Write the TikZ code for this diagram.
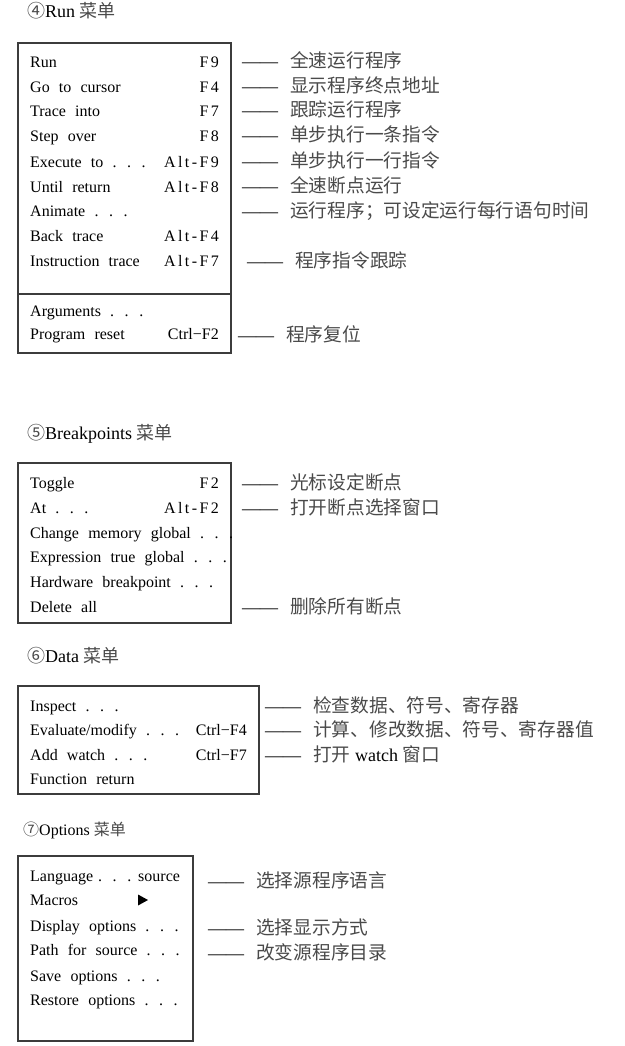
\documentclass[tikz,border=0pt]{standalone}
\usepackage{fontspec}
\setmainfont{Liberation Serif}
\newfontfamily\cjk{Noto Sans CJK SC}
\newfontfamily\menufont[WordSpace=2.3]{Liberation Serif}
\newfontfamily\keyfont[LetterSpace=15]{Liberation Serif}
\definecolor{zhgray}{HTML}{4A4A4A}
\definecolor{boxgray}{HTML}{3C3C3C}
\newcommand\zh[1]{{\cjk\color{zhgray}#1}}
\newcommand\zhb[1]{{\cjk\fontsize{18.7}{22}\selectfont\color{zhgray}#1}}
\newcommand\annot[1]{——\hspace{12pt}\zhb{#1}}
\tikzset{
  menuitem/.style={anchor=base west, inner sep=0pt, font=\menufont\fontsize{16}{19}\selectfont},
  keyitem/.style={anchor=base east, inner sep=0pt, font=\keyfont\fontsize{16}{19}\selectfont},
  ctrlkey/.style={anchor=base east, inner sep=0pt, font=\menufont\fontsize{16}{19}\selectfont},
  ann/.style={anchor=base west, inner sep=0pt, font=\fontsize{18}{22}\selectfont},
  titletext/.style={anchor=base west, inner sep=0pt, font=\fontsize{18}{22}\selectfont},
  smalltitle/.style={anchor=base west, inner sep=0pt, font=\fontsize{16}{20}\selectfont},
  menubox/.style={draw=boxgray, line width=1.2pt},
}
\begin{document}
\begin{tikzpicture}[x=1pt,y=-1pt]
\useasboundingbox[fill=white] (0,0) rectangle (624,1046);

% ---------- Run menu ----------
\node[titletext] (t4) at (27,18) {\zh{④}Run \zh{菜单}};
\draw[menubox] (18,43) rectangle (231,353);
\draw[draw=boxgray, line width=1.8pt] (18,294) -- (231,294);
\node[menuitem] (r1) at (30,68) {Run};
\node[menuitem] (r2) at (30,93) {Go to cursor};
\node[menuitem] (r3) at (30,117) {Trace into};
\node[menuitem] (r4) at (30,142) {Step over};
\node[menuitem] (r5) at (30,167) {Execute to . . .};
\node[menuitem] (r6) at (30,192) {Until return};
\node[menuitem] (r7) at (30,216) {Animate . . .};
\node[menuitem] (r8) at (30,241) {Back trace};
\node[menuitem] (r9) at (30,266) {Instruction trace};
\node[menuitem] (r10) at (30,316) {Arguments . . .};
\node[menuitem] (r11) at (30,339) {Program reset};
\node[keyitem] (k1) at (219,68) {F9};
\node[keyitem] (k2) at (219,93) {F4};
\node[keyitem] (k3) at (219,117) {F7};
\node[keyitem] (k4) at (219,142) {F8};
\node[keyitem] (k5) at (219,167) {Alt-F9};
\node[keyitem] (k6) at (219,192) {Alt-F8};
\node[keyitem] (k8) at (219,241) {Alt-F4};
\node[keyitem] (k9) at (219,266) {Alt-F7};
\node[ctrlkey] (k11) at (219,339) {Ctrl−F2};
\node[ann] (a1) at (242,68) {\annot{全速运行程序}};
\node[ann] (a2) at (242,93) {\annot{显示程序终点地址}};
\node[ann] (a3) at (242,117) {\annot{跟踪运行程序}};
\node[ann] (a4) at (242,142) {\annot{单步执行一条指令}};
\node[ann] (a5) at (242,167) {\annot{单步执行一行指令}};
\node[ann] (a6) at (242,192) {\annot{全速断点运行}};
\node[ann] (a7) at (242,217) {\annot{运行程序；可设定运行每行语句时间}};
\node[ann] (a9) at (247,267) {\annot{程序指令跟踪}};
\node[ann] (a11) at (238,341) {\annot{程序复位}};

% ---------- Breakpoints menu ----------
\node[titletext] (t5) at (27,439) {\zh{⑤}Breakpoints \zh{菜单}};
\draw[menubox] (18,463) rectangle (231,623);
\node[menuitem] (b1) at (30,488) {Toggle};
\node[menuitem] (b2) at (30,513) {At . . .};
\node[menuitem] (b3) at (30,538) {Change memory global . . .};
\node[menuitem] (b4) at (30,562) {Expression true global . . .};
\node[menuitem] (b5) at (30,587) {Hardware breakpoint . . .};
\node[menuitem] (b6) at (30,612) {Delete all};
\node[keyitem] (bk1) at (219,488) {F2};
\node[keyitem] (bk2) at (219,513) {Alt-F2};
\node[ann] (ba1) at (242,489) {\annot{光标设定断点}};
\node[ann] (ba2) at (242,514) {\annot{打开断点选择窗口}};
\node[ann] (ba6) at (242,613) {\annot{删除所有断点}};

% ---------- Data menu ----------
\node[titletext] (t6) at (27,662) {\zh{⑥}Data \zh{菜单}};
\draw[menubox] (18,686) rectangle (259,794);
\node[menuitem] (d1) at (30,711) {Inspect . . .};
\node[menuitem] (d2) at (30,735) {Evaluate/modify . . .};
\node[menuitem] (d3) at (30,760) {Add watch . . .};
\node[menuitem] (d4) at (30,784) {Function return};
\node[ctrlkey] (dk2) at (247,735) {Ctrl−F4};
\node[ctrlkey] (dk3) at (247,760) {Ctrl−F7};
\node[ann] (da1) at (265,712) {\annot{检查数据、符号、寄存器}};
\node[ann] (da2) at (265,736) {\annot{计算、修改数据、符号、寄存器值}};
\node[ann] (da3) at (265,761) {——\hspace{12pt}\zhb{打开} watch \zhb{窗口}};

% ---------- Options menu ----------
\node[smalltitle] (t7) at (23,835) {\zh{⑦}Options \zh{菜单}};
\draw[menubox] (18,856) rectangle (193,1041);
\node[menuitem] (o1) at (30,881) {Language};
\node[menuitem] (o1b) at (98,881) {. . .};
\node[menuitem] (o1c) at (138,881) {source};
\node[menuitem] (o2) at (30,905) {Macros};
\fill[black] (138,894.5) -- (148,900) -- (138,905.5) -- cycle;
\node[menuitem] (o3) at (30,931) {Display options . . .};
\node[menuitem] (o4) at (30,955) {Path for source . . .};
\node[menuitem] (o5) at (30,981) {Save options . . .};
\node[menuitem] (o6) at (30,1005) {Restore options . . .};
\node[ann] (oa1) at (208,887) {\annot{选择源程序语言}};
\node[ann] (oa3) at (208,934) {\annot{选择显示方式}};
\node[ann] (oa4) at (208,959) {\annot{改变源程序目录}};
\end{tikzpicture}
\end{document}
